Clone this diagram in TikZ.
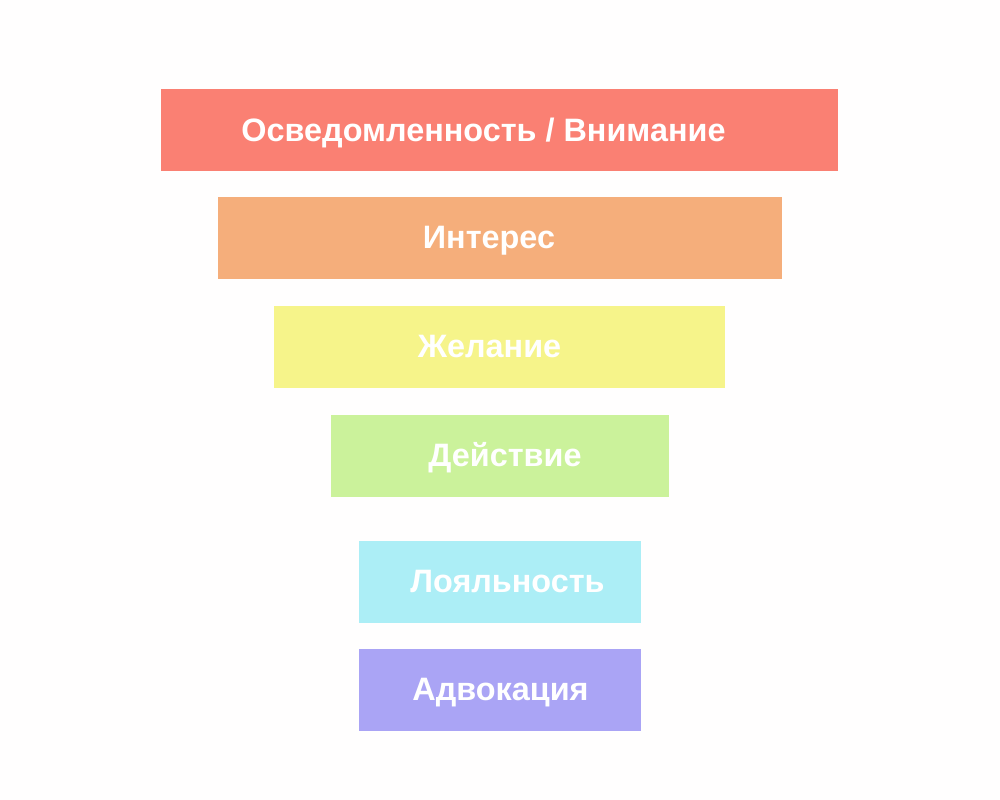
\documentclass[tikz,border=0pt]{standalone}
\usepackage{fontspec}
\setmainfont{Liberation Sans}
\definecolor{aware}{HTML}{FA8073}
\definecolor{inter}{HTML}{F5AE7B}
\definecolor{desire}{HTML}{F6F48A}
\definecolor{act}{HTML}{CBF29B}
\definecolor{loyal}{HTML}{ACEEF6}
\definecolor{advoc}{HTML}{AAA4F5}
\begin{document}
\begin{tikzpicture}[x=0.75pt,y=-0.75pt,
	bar/.style={inner sep=0pt,outer sep=0pt,minimum height=82*0.75pt},
	lbl/.style={anchor=base,inner sep=0pt,text=white,font=\bfseries\fontsize{24.3}{28}\selectfont}]
	\fill[white!98!pink](0,0)rectangle(1000,800);
	\useasboundingbox (0,0)rectangle(1000,800);
	\node[bar,fill=aware,minimum width=677*0.75pt](aware)at(499.5,130){};
	\node[bar,fill=inter,minimum width=564*0.75pt](inter)at(499.5,238){};
	\node[bar,fill=desire,minimum width=451*0.75pt](desire)at(499.5,347){};
	\node[bar,fill=act,minimum width=338*0.75pt](act)at(499.5,455.5){};
	\node[bar,fill=loyal,minimum width=282*0.75pt](loyal)at(500,582){};
	\node[bar,fill=advoc,minimum width=282*0.75pt](advoc)at(500,689.5){};
	\node[lbl](awaretxt)at(483.5,141){Осведомленность / Внимание};
	\node[lbl](intertxt)at(489,248.5){Интерес};
	\node[lbl](desiretxt)at(489.5,357.5){Желание};
	\node[lbl](acttxt)at(505,466){Действие};
	\node[lbl](loyaltxt)at(507.5,592.5){Лояльность};
	\node[lbl](advoctxt)at(500.5,700){Адвокация};
\end{tikzpicture}
\end{document}
